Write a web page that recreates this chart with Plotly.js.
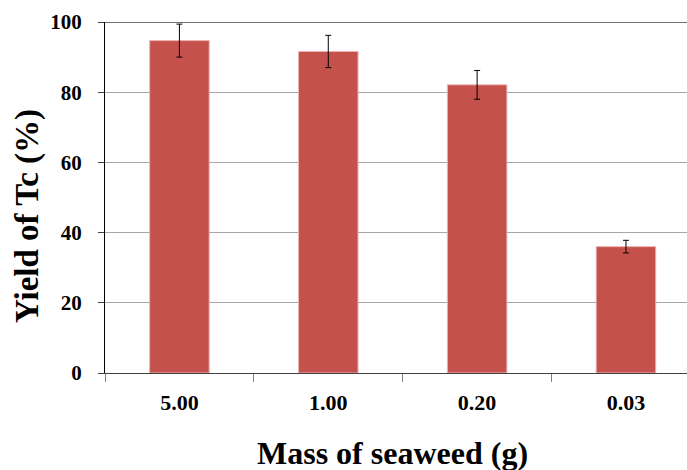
<!DOCTYPE html>
<html>
<head>
<meta charset="utf-8">
<script src="https://cdn.plot.ly/plotly-3.0.1.min.js"></script>
<style>
  html, body { margin: 0; padding: 0; background: #ffffff; }
  #chart { width: 687px; height: 470px; }
</style>
</head>
<body>
<div id="chart"></div>
<script>
// Seaweed mass (g) and the resulting Tc yield (%) with standard deviations
const massLabels = ["5.00", "1.00", "0.20", "0.03"];
const yieldValues = [94.7, 91.6, 82.1, 36.0];
const yieldErrors = [4.7, 4.6, 4.1, 1.8];
const yTickValues = [0, 20, 40, 60, 80, 100];

const serif = "Liberation Serif, Times New Roman, serif";

const trace = {
  type: "bar",
  x: massLabels,
  y: yieldValues,
  width: 0.4,
  marker: {
    color: "#C5514D",
    line: { color: "#eab4b2", width: 1 }
  },
  error_y: {
    type: "data",
    array: yieldErrors,
    visible: true,
    color: "#000000",
    thickness: 1,
    width: 3
  },
  hoverinfo: "skip"
};

const layout = {
  width: 687,
  height: 470,
  margin: { l: 105, r: 0, t: 22, b: 97, pad: 0 },
  paper_bgcolor: "#ffffff",
  plot_bgcolor: "#ffffff",
  showlegend: false,
  xaxis: {
    type: "category",
    range: [-0.5, 3.41],
    tickson: "boundaries",
    ticks: "outside",
    ticklen: 8,
    tickcolor: "#7f7f7f",
    tickwidth: 1,
    showline: true,
    linecolor: "#404040",
    linewidth: 1,
    showgrid: false,
    zeroline: false,
    ticklabelstandoff: 10,
    tickfont: { family: serif, size: 22, color: "#000000", weight: "bold" }
  },
  yaxis: {
    range: [0, 100],
    tickvals: yTickValues,
    ticktext: yTickValues.map(String),
    ticks: "outside",
    ticklen: 6,
    tickcolor: "#404040",
    showline: true,
    linecolor: "#000000",
    linewidth: 1,
    showgrid: true,
    gridcolor: "#a6a6a6",
    gridwidth: 1,
    zeroline: false,
    ticklabelstandoff: 12,
    tickfont: { family: serif, size: 21, color: "#000000", weight: "bold" }
  },
  shapes: [
    {
      // darker frame line at the top of the value axis
      type: "line", xref: "paper", yref: "y",
      x0: 0, x1: 1, y0: 100, y1: 100,
      line: { color: "#404040", width: 1.5 }
    }
  ],
  annotations: [
    {
      text: "Mass of seaweed (g)",
      xref: "paper", yref: "paper",
      x: 0.494, y: -0.172,
      xanchor: "center", yanchor: "top",
      showarrow: false,
      font: { family: serif, size: 32, color: "#000000", weight: "bold" }
    },
    {
      text: "Yield of Tc (%)",
      xref: "paper", yref: "paper",
      x: -0.134, y: 0.447,
      xanchor: "center", yanchor: "middle",
      textangle: -90,
      showarrow: false,
      font: { family: serif, size: 33, color: "#000000", weight: "bold" }
    }
  ]
};

Plotly.newPlot("chart", [trace], layout, { displayModeBar: false, staticPlot: true });
</script>
</body>
</html>
